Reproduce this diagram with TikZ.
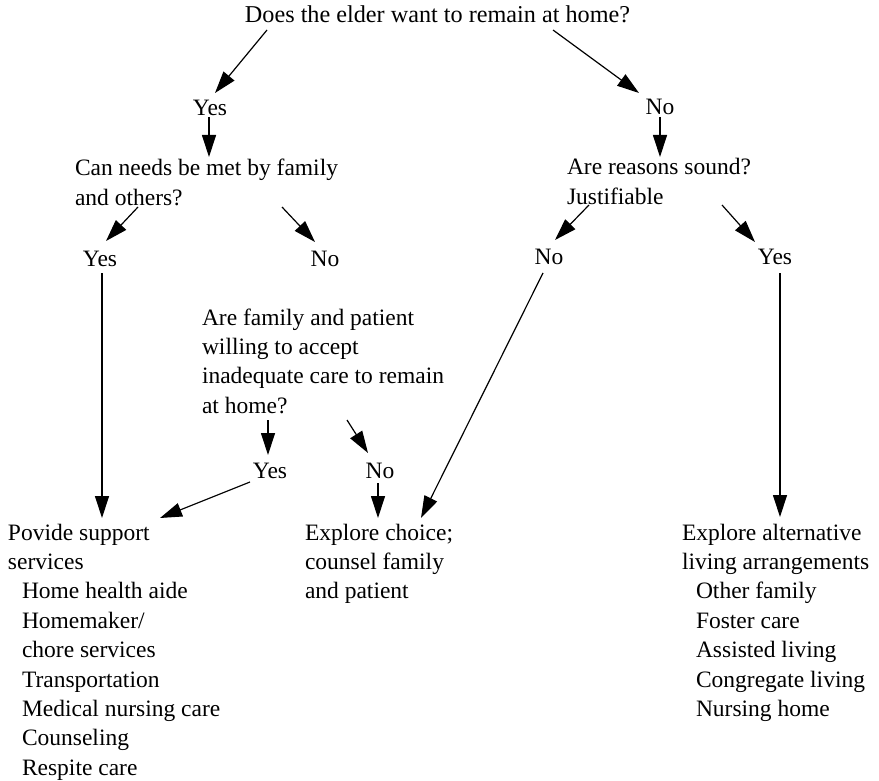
\documentclass[tikz,border=0pt]{standalone}
\usepackage{fontspec}
\setmainfont{Liberation Serif}
\usetikzlibrary{arrows.meta}
\tikzset{
  txt/.style={inner sep=0pt, outer sep=0pt, font=\fontsize{23.5}{29.4}\selectfont},
  arr/.style={line width=1.2pt, -{Triangle[length=22pt,width=14pt]}},
}
\newcommand{\ind}{\hspace*{14pt}}
\begin{document}
\begin{tikzpicture}[x=1pt,y=-1pt]
\useasboundingbox[fill=white] (0,0) rectangle (879,781);
\node[txt,anchor=base,font=\fontsize{24.2}{29.4}\selectfont] (q1) at (437.5,23) {Does the elder want to remain at home?};
\node[txt,anchor=base] (y1) at (210,116) {Yes};
\node[txt,anchor=base] (n1) at (660,115) {No};
\node[txt,anchor=base west] (q2) at (75,176) {\begin{tabular}[t]{@{}l@{}}Can needs be met by family\\and others?\end{tabular}};
\node[txt,anchor=base west] (q3) at (567,175) {\begin{tabular}[t]{@{}l@{}}Are reasons sound?\\Justifiable\end{tabular}};
\node[txt,anchor=base] (y2) at (100,266) {Yes};
\node[txt,anchor=base] (n2) at (325,266) {No};
\node[txt,anchor=base] (n3) at (549,265) {No};
\node[txt,anchor=base] (y3) at (775,265) {Yes};
\node[txt,anchor=base west] (q4) at (202,325) {\begin{tabular}[t]{@{}l@{}}Are family and patient\\willing to accept\\inadequate care to remain\\at home?\end{tabular}};
\node[txt,anchor=base] (y4) at (270,478) {Yes};
\node[txt,anchor=base] (n4) at (380,478) {No};
\node[txt,anchor=base west] (s1) at (8,540) {\begin{tabular}[t]{@{}l@{}}Povide support\\services\\\ind Home health aide\\\ind Homemaker/\\\ind chore services\\\ind Transportation\\\ind Medical nursing care\\\ind Counseling\\\ind Respite care\end{tabular}};
\node[txt,anchor=base west] (s2) at (305,540) {\begin{tabular}[t]{@{}l@{}}Explore choice;\\counsel family\\and patient\end{tabular}};
\node[txt,anchor=base west] (s3) at (682,540) {\begin{tabular}[t]{@{}l@{}}Explore alternative\\living arrangements\\\ind Other family\\\ind Foster care\\\ind Assisted living\\\ind Congregate living\\\ind Nursing home\end{tabular}};

\draw[arr] ([shift={(-170.5,7)}]q1.base) -- ([shift={(5,-23)}]y1.base);
\draw[arr] ([shift={(115.5,7)}]q1.base) -- ([shift={(-21,-22)}]n1.base);
\draw[arr] ([shift={(-1,1)}]y1.base) -- ([shift={(134,-19)}]q2.base west);
\draw[arr] ([shift={(0,2)}]n1.base) -- ([shift={(93,-18)}]q3.base west);
\draw[arr] ([shift={(63,31)}]q2.base west) -- ([shift={(6,-25)}]y2.base);
\draw[arr] ([shift={(207,31)}]q2.base west) -- ([shift={(-10,-24)}]n2.base);
\draw[arr] ([shift={(22,30)}]q3.base west) -- ([shift={(6,-25)}]n3.base);
\draw[arr] ([shift={(155,30)}]q3.base west) -- ([shift={(-20,-23)}]y3.base);
\draw[arr] ([shift={(2,7)}]y2.base) -- ([shift={(94,-22)}]s1.base west);
\draw[arr] ([shift={(-6,8)}]n3.base) -- ([shift={(116,-22)}]s2.base west);
\draw[arr] ([shift={(5,8)}]y3.base) -- ([shift={(98,-23)}]s3.base west);
\draw[arr] ([shift={(66,95)}]q4.base west) -- ([shift={(-2,-23)}]y4.base);
\draw[arr] ([shift={(145,95)}]q4.base west) -- ([shift={(-12,-25)}]n4.base);
\draw[arr] ([shift={(-20,4)}]y4.base) -- ([shift={(152,-22)}]s1.base west);
\draw[arr] ([shift={(-2,5)}]n4.base) -- ([shift={(73,-22)}]s2.base west);
\end{tikzpicture}
\end{document}
